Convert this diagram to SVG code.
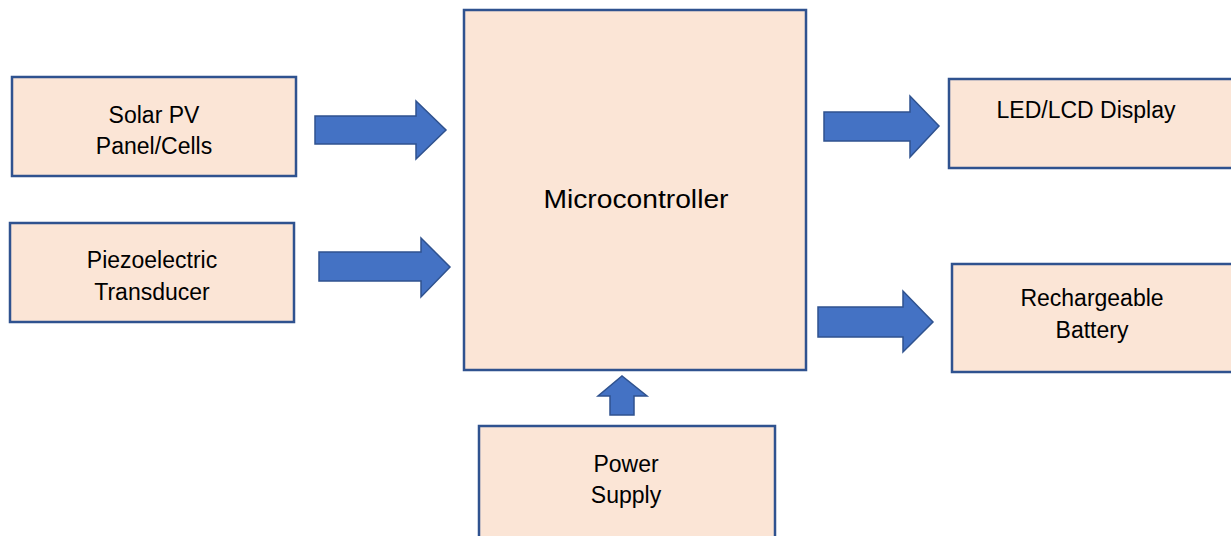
<svg xmlns="http://www.w3.org/2000/svg" width="1231" height="536" viewBox="0 0 1231 536">
<style>
.box{fill:#FBE5D6;stroke:#2F528F;stroke-width:2.5}
.arr{fill:#4472C4;stroke:#2F528F;stroke-width:1.5;stroke-linejoin:miter}
text{font-family:"Liberation Sans",Arial,sans-serif;font-size:23px;fill:#000;text-anchor:middle}
</style>
<rect width="1231" height="536" fill="#fff"/>
<g id="solar"><rect class="box" x="12" y="77" width="284" height="99"/><text x="154" y="123">Solar PV</text><text x="154" y="154">Panel/Cells</text></g>
<g id="piezo"><rect class="box" x="10" y="223" width="284" height="99"/><text x="152" y="268">Piezoelectric</text><text x="152" y="300">Transducer</text></g>
<g id="mcu"><rect class="box" x="464" y="10" width="342" height="360"/><text x="636" y="208" style="font-size:25px" textLength="185" lengthAdjust="spacingAndGlyphs">Microcontroller</text></g>
<g id="led"><rect class="box" x="949" y="79" width="290" height="89"/><text x="1086" y="118">LED/LCD Display</text></g>
<g id="battery"><rect class="box" x="952" y="264" width="290" height="108"/><text x="1092" y="306">Rechargeable</text><text x="1092" y="338">Battery</text></g>
<g id="power"><rect class="box" x="479" y="426" width="296" height="120"/><text x="626" y="472">Power</text><text x="626" y="503">Supply</text></g>
<g id="connectors">
<polygon class="arr" points="315,116 416,116 416,101 446,130 416,159 416,144 315,144"/>
<polygon class="arr" points="319,252 421,252 421,238 450,267 421,297 421,281 319,281"/>
<polygon class="arr" points="824,112 910,112 910,96 939,126 910,157 910,141 824,141"/>
<polygon class="arr" points="818,307 903,307 903,291 933,322 903,352 903,337 818,337"/>
<polygon class="arr" points="610,415 610,396 598,396 622,376 647,396 634,396 634,415"/>
</g>
</svg>
